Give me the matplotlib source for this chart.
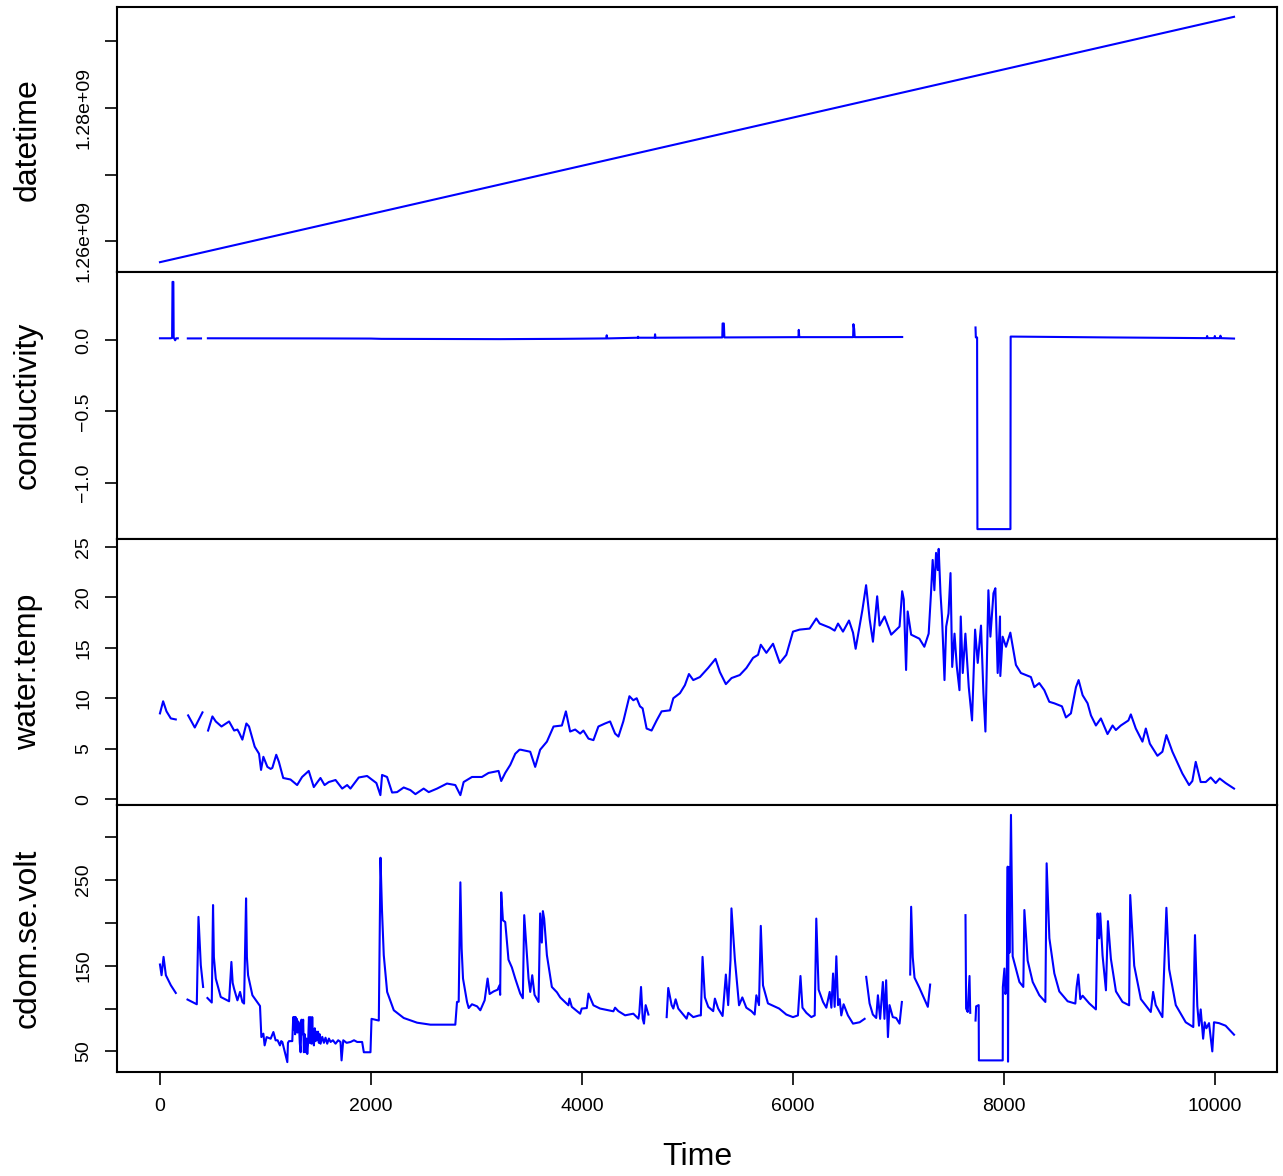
import numpy as np
import matplotlib
matplotlib.use('Agg')
import matplotlib.pyplot as plt

plt.rcParams['font.family'] = ['Liberation Sans', 'DejaVu Sans']

nan = float('nan')
n_obs = 10180

# datetime (seconds since epoch), a straight hourly ramp
dt_time = [1, 10180]
dt_value = [1.2569e9, 1.29363e9]

# conductivity, nan = missing
cond_time = [1, 100, 116, 120, 128, 131, 145, 155, 170, nan,
             265, 390, nan,
             455, 1500, 2000, 2100, 3226, 3800, 4230, 4235, 4240,
             4529, 4532, 4535, 4690, 4693, 4697, 5000,
             5330, 5333, 5345, 5350, 6052, 6055, 6060,
             6570, 6573, 6580, 6585, 7035, nan,
             7730, 7733, 7745, 7748, 8061, 8063, 9000, 9920, 9925, 9930,
             9995, 9998, 10002, 10048, 10051, 10055, 10180]
cond_value = [0.014, 0.014, 0.016, 0.41, 0.41, 0.02, 0.0, 0.014, 0.014, nan,
              0.013, 0.013, nan,
              0.014, 0.013, 0.012, 0.010, 0.008, 0.010, 0.013, 0.035, 0.013,
              0.018, 0.025, 0.018, 0.018, 0.042, 0.018, 0.019,
              0.02, 0.118, 0.118, 0.02, 0.022, 0.073, 0.022,
              0.022, 0.113, 0.08, 0.022, 0.023, nan,
              0.09, 0.02, 0.02, -1.326, -1.326, 0.026, 0.02, 0.015, 0.03, 0.015,
              0.015, 0.03, 0.015, 0.015, 0.032, 0.015, 0.012]

# water temperature
wt_time = [1, 31, 63, 104, 151, nan, 268, 331, 404, nan,
           457, 498, 530, 584, 656, 704, 735, 751, 782, 820, 845, 899, 940, 959,
           981, 1019, 1050, 1066, 1103, 1128, 1169, 1238, 1301, 1348, 1411, 1459,
           1522, 1561, 1601, 1665, 1728, 1775, 1806, 1885, 1964, 2052, 2090, 2106,
           2153, 2201, 2248, 2311, 2374, 2422, 2500, 2548, 2627, 2721, 2800, 2848,
           2879, 2958, 3052, 3115, 3210, 3235, 3273, 3321, 3368, 3408, 3421, 3510,
           3557, 3604, 3668, 3731, 3810, 3848, 3888, 3936, 3983, 4014, 4062, 4109,
           4156, 4219, 4267, 4314, 4346, 4392, 4450, 4487, 4519, 4550, 4575, 4613,
           4660, 4708, 4755, 4834, 4866, 4929, 4976, 5014, 5055, 5118, 5196, 5266,
           5307, 5364, 5418, 5496, 5559, 5622, 5669, 5695, 5748, 5811, 5875, 5937,
           6000, 6063, 6158, 6221, 6253, 6348, 6395, 6427, 6474, 6531, 6569, 6594,
           6626, 6658, 6693, 6727, 6758, 6798, 6821, 6868, 6931, 7010, 7035, 7050,
           7072, 7087, 7120, 7198, 7245, 7286, 7308, 7324, 7340, 7356, 7372, 7381,
           7398, 7413, 7436, 7452, 7474, 7493, 7509, 7531, 7553, 7578, 7590, 7609,
           7634, 7666, 7697, 7726, 7751, 7782, 7805, 7824, 7852, 7871, 7900, 7918,
           7940, 7962, 7965, 7987, 8019, 8060, 8113, 8160, 8255, 8287, 8334, 8382,
           8429, 8476, 8524, 8549, 8587, 8634, 8682, 8707, 8745, 8792, 8824, 8871,
           8918, 8981, 9029, 9060, 9107, 9179, 9202, 9249, 9312, 9344, 9382, 9454,
           9501, 9539, 9596, 9690, 9754, 9785, 9817, 9864, 9912, 9959, 10006, 10044,
           10100, 10180]
wt_value = [8.5, 9.7, 8.7, 8.0, 7.9, nan, 8.3, 7.1, 8.6, nan,
            6.8, 8.2, 7.7, 7.2, 7.7, 6.8, 6.9, 6.6, 5.9, 7.5, 7.2, 5.2, 4.5, 2.9,
            4.2, 3.2, 3.0, 3.1, 4.4, 3.7, 2.1, 1.95, 1.4, 2.2, 2.8, 1.2,
            2.1, 1.4, 1.7, 1.9, 1.05, 1.4, 1.05, 2.15, 2.3, 1.6, 0.4, 2.4,
            2.2, 0.66, 0.7, 1.16, 0.9, 0.5, 1.05, 0.7, 1.05, 1.55, 1.4, 0.4,
            1.7, 2.2, 2.2, 2.6, 2.8, 1.8, 2.6, 3.4, 4.5, 4.9, 4.9, 4.7,
            3.2, 4.9, 5.7, 7.2, 7.3, 8.7, 6.7, 6.9, 6.5, 6.8, 6.0, 5.85,
            7.2, 7.5, 7.7, 6.5, 6.2, 7.7, 10.2, 9.8, 10.0, 9.2, 9.0, 7.0,
            6.8, 7.8, 8.7, 8.8, 10.0, 10.5, 11.3, 12.4, 11.8, 12.1, 13.0, 13.9,
            12.6, 11.4, 12.0, 12.3, 13.0, 14.0, 14.3, 15.3, 14.5, 15.4, 13.5, 14.3,
            16.6, 16.8, 16.9, 17.9, 17.4, 17.0, 16.7, 17.4, 16.6, 17.7, 16.5, 14.9,
            16.8, 18.75, 21.2, 17.8, 15.6, 20.1, 17.2, 18.1, 16.3, 17.1, 20.6, 19.8,
            12.8, 18.6, 16.3, 15.9, 15.1, 16.4, 20.4, 23.7, 20.7, 24.4, 22.7, 24.8,
            20.4, 17.9, 11.8, 17.1, 18.4, 22.4, 13.1, 16.4, 13.1, 10.8, 18.1, 12.5,
            16.4, 11.1, 7.8, 16.8, 13.5, 17.2, 10.5, 6.7, 20.7, 16.1, 20.4, 20.9,
            12.5, 18.1, 12.2, 16.1, 15.1, 16.5, 13.3, 12.5, 12.1, 11.1, 11.5, 10.8,
            9.65, 9.5, 9.3, 9.2, 8.1, 8.5, 11.1, 11.8, 10.3, 9.5, 8.3, 7.3,
            8.0, 6.45, 7.3, 6.85, 7.3, 7.8, 8.4, 7.0, 5.7, 7.0, 5.5, 4.3,
            4.7, 6.35, 4.7, 2.55, 1.4, 1.8, 3.7, 1.7, 1.7, 2.15, 1.6, 2.05,
            1.6, 1.05]

# cdom.se.volt
cdom_time = [1, 16, 35, 57, 104, 151, nan,
             262, 350, 366, 388, 410, nan,
             451, 492, 504, 512, 530, 577, 656, 678, 690, 703, 735, 760, 782, 798,
             817, 825, 836, 877, 949, 962, 981, 993, 1012, 1050, 1076, 1097, 1116,
             1138, 1150, 1161, 1208, 1214, 1224, 1255, 1264, 1270, 1276, 1282, 1287,
             1293, 1298, 1304, 1310, 1318, 1326, 1334, 1342, 1350, 1358, 1365, 1373,
             1381, 1389, 1397, 1405, 1413, 1420, 1428, 1436, 1444, 1452, 1460, 1468,
             1476, 1484, 1491, 1499, 1507, 1515, 1523, 1539, 1555, 1570, 1586, 1602,
             1618, 1640, 1665, 1690, 1712, 1722, 1738, 1770, 1807, 1840, 1870, 1917,
             1933, 1996, 2006, 2075, 2091, 2105, 2122, 2154, 2217,
             2311, 2438, 2564, 2800, 2816, 2832, 2848, 2860, 2873, 2911, 2927, 2958,
             3006, 3037, 3078, 3106, 3125, 3163, 3201, 3219, 3225, 3235, 3251, 3273,
             3304, 3336, 3368, 3415, 3440, 3453, 3472, 3494, 3510, 3529, 3551, 3589,
             3604, 3620, 3630, 3642, 3668, 3715, 3763, 3794, 3872, 3882, 3904, 3983,
             3998, 4046, 4062, 4109, 4172, 4298, 4314, 4345, 4409, 4487, 4535, 4544,
             4560, 4576, 4588, 4604, 4630, nan,
             4803, 4818, 4850, 4866, 4888, 4913, 4992, 5008, 5055, 5111, 5127, 5143,
             5165, 5197, 5244, 5260, 5291, 5333, 5364, 5386, 5408, 5417, 5449, 5489,
             5520, 5558, 5606, 5637, 5653, 5678, 5695, 5716, 5763, 5869, 5937, 6000,
             6047, 6071, 6090, 6127, 6174, 6206, 6221, 6243, 6285, 6316, 6348, 6364,
             6380, 6395, 6411, 6427, 6443, 6458, 6480, 6521, 6569, 6632, 6679, nan,
             6694, 6726, 6757, 6789, 6805, 6826, 6852, 6867, 6883, 6900, 6915, 6946,
             6978, 7010, 7032, nan,
             7111, 7120, 7135, 7152, 7199, 7246, 7278, 7300, nan,
             7635, 7641, 7656, 7673, 7680, nan,
             7730, 7736, 7760, 7762, 7988, 7989, 8004, 8013, 8026, 8035, 8038, 8045,
             8051, 8066, 8082, 8114, 8146, 8183, 8193, 8224, 8272, 8335, 8392, 8404,
             8430, 8477, 8524, 8603, 8676, 8688, 8704, 8723, 8745, 8808, 8871, 8887,
             8902, 8912, 8934, 8966, 8985, 9013, 9061, 9123, 9186, 9196, 9234, 9297,
             9391, 9413, 9438, 9501, 9539, 9565, 9628, 9722, 9794, 9804, 9810, 9823,
             9832, 9848, 9864, 9887, 9902, 9918, 9943, 9974, 9990, 10037, 10100, 10180]
cdom_value = [151.4, 138.9, 160.3, 138.9, 127.2, 118.2, nan,
              110.5, 105, 207, 150.6, 125.2, nan,
              112.3, 107, 220.8, 160, 135, 113.5, 108.5, 154.4, 130, 123.3, 109.6, 119.4, 107.7, 105.8,
              228.6, 160, 138.9, 115.5, 103, 66.7, 70.7, 57, 66.7, 64.8, 72.6, 62.9, 63,
              57, 62, 60.9, 37.5, 60, 62, 62, 90, 75, 90, 70, 90,
              80, 88, 72, 85, 83, 60, 49, 87, 70, 87, 49, 70,
              49, 65, 47, 60, 90, 60, 90, 59, 90, 62, 57, 77,
              62, 73, 63, 73, 60, 70, 59, 67, 60, 66, 59, 65,
              61, 63, 59, 63, 61, 39.5, 63, 60, 61, 63, 61, 61,
              49, 49, 88, 86, 276, 215, 162.3, 119.4, 98,
              89, 83.5, 81.2, 81.2, 107.7, 108, 247.3, 170, 135, 107.7, 100.6, 105,
              102.6, 98, 109.6, 135, 117, 120, 122, 127.2, 116, 235.6, 203, 201,
              157, 148, 135, 117.5, 112, 209, 175, 135, 119.4, 138.9, 116, 107.7,
              211, 177, 213.7, 205, 162.3, 125.2, 119, 113, 103.8, 111.6, 102, 94,
              100, 100.6, 117.5, 103.8, 100, 96.8, 101, 97, 92.1, 94, 88.2, 95,
              125.2, 88, 82.4, 104, 93, nan,
              90, 124, 104, 100, 110.8, 100, 88.2, 95, 90, 92, 92, 160.3,
              113, 102, 97, 111.6, 100, 91.3, 139.7, 104, 156.4, 216.9, 158, 103.8,
              113, 101, 97, 93, 115.5, 104, 196.5, 127, 106, 100, 93, 90,
              92, 138, 101, 95, 90, 92, 205, 122, 107.7, 101, 119.4, 101,
              140.9, 102, 161, 104, 111, 92, 105, 92, 82.4, 84, 88, nan,
              137, 106, 93, 89, 115.5, 88, 131, 88, 133, 66.7, 104, 90,
              89, 82.4, 107.7, nan,
              139.7, 218.8, 160, 136, 124, 111, 102, 128, nan,
              209, 100, 96, 138, 95, nan,
              86, 102.6, 104, 39.5, 39.5, 125, 146.7, 117, 124, 265.6, 38, 265,
              165, 326, 161, 146, 131, 125.2, 215, 156, 131, 115.5, 107.7, 269.5,
              182, 141, 120, 108.5, 105.8, 125, 139.7, 111, 115, 106, 99, 211,
              182, 211, 162, 121.3, 202, 158, 120, 107.7, 103.8, 232.5, 150, 111,
              96, 119.4, 104, 90, 217.6, 146, 104, 84, 78.4, 154.4, 185.7, 136,
              103, 80, 99, 64.8, 84, 77, 83, 50, 84, 83, 80, 69.5]

# tick marks and labels
dt_ticks = [1.26e9, 1.27e9, 1.28e9, 1.29e9]
dt_ticklabels = ['1.26e+09', '', '1.28e+09', '']
cond_ticks = [-1.0, -0.5, 0.0]
cond_ticklabels = ['\u22121.0', '\u22120.5', '0.0']
wt_ticks = [0, 5, 10, 15, 20, 25]
wt_ticklabels = ['0', '5', '10', '15', '20', '25']
cdom_ticks = [50, 100, 150, 200, 250, 300]
cdom_ticklabels = ['50', '', '150', '', '250', '']
time_ticks = [0, 2000, 4000, 6000, 8000, 10000]

panels = [
    ('datetime', dt_time, dt_value, dt_ticks, dt_ticklabels),
    ('conductivity', cond_time, cond_value, cond_ticks, cond_ticklabels),
    ('water.temp', wt_time, wt_value, wt_ticks, wt_ticklabels),
    ('cdom.se.volt', cdom_time, cdom_value, cdom_ticks, cdom_ticklabels),
]

W, H = 1283, 1176
fig = plt.figure(figsize=(W / 100, H / 100), dpi=100)

left, right = 117 / W, 1277 / W
edges = [7, 272, 539, 805, 1072]   # panel borders in pixels from the top

pad = 0.04 * (n_obs - 1)
for i, (name, t, v, ticks, labels) in enumerate(panels):
    top = 1 - edges[i] / H
    bottom = 1 - edges[i + 1] / H
    ax = fig.add_axes([left, bottom, right - left, top - bottom])
    ax.plot(t, v, color='#0000ff', linewidth=1.5)
    ax.set_xlim(1 - pad, n_obs + pad)
    vals = np.array(v, dtype=float)
    lo, hi = np.nanmin(vals), np.nanmax(vals)
    ax.set_ylim(lo - 0.04 * (hi - lo), hi + 0.04 * (hi - lo))

    for s in ax.spines.values():
        s.set_linewidth(1.5)
    ax.set_yticks(ticks)
    ax.set_yticklabels(labels, fontsize=14, rotation=90, va='center')
    ax.tick_params(axis='y', direction='out', length=9, width=1.2, pad=9)

    ax.set_ylabel(name, fontsize=23, va='center')
    ax.yaxis.set_label_coords(-0.077, 0.5)

    if i < 3:
        ax.set_xticks([])
    else:
        ax.set_xticks(time_ticks)
        ax.set_xticklabels([str(x) for x in time_ticks], fontsize=14)
        ax.tick_params(axis='x', direction='out', length=9, width=1.2, pad=10)
        ax.set_xlabel('Time', fontsize=23, va='top')
        ax.xaxis.set_label_coords(0.5, -0.262)

fig.savefig('out.png', dpi=100)
